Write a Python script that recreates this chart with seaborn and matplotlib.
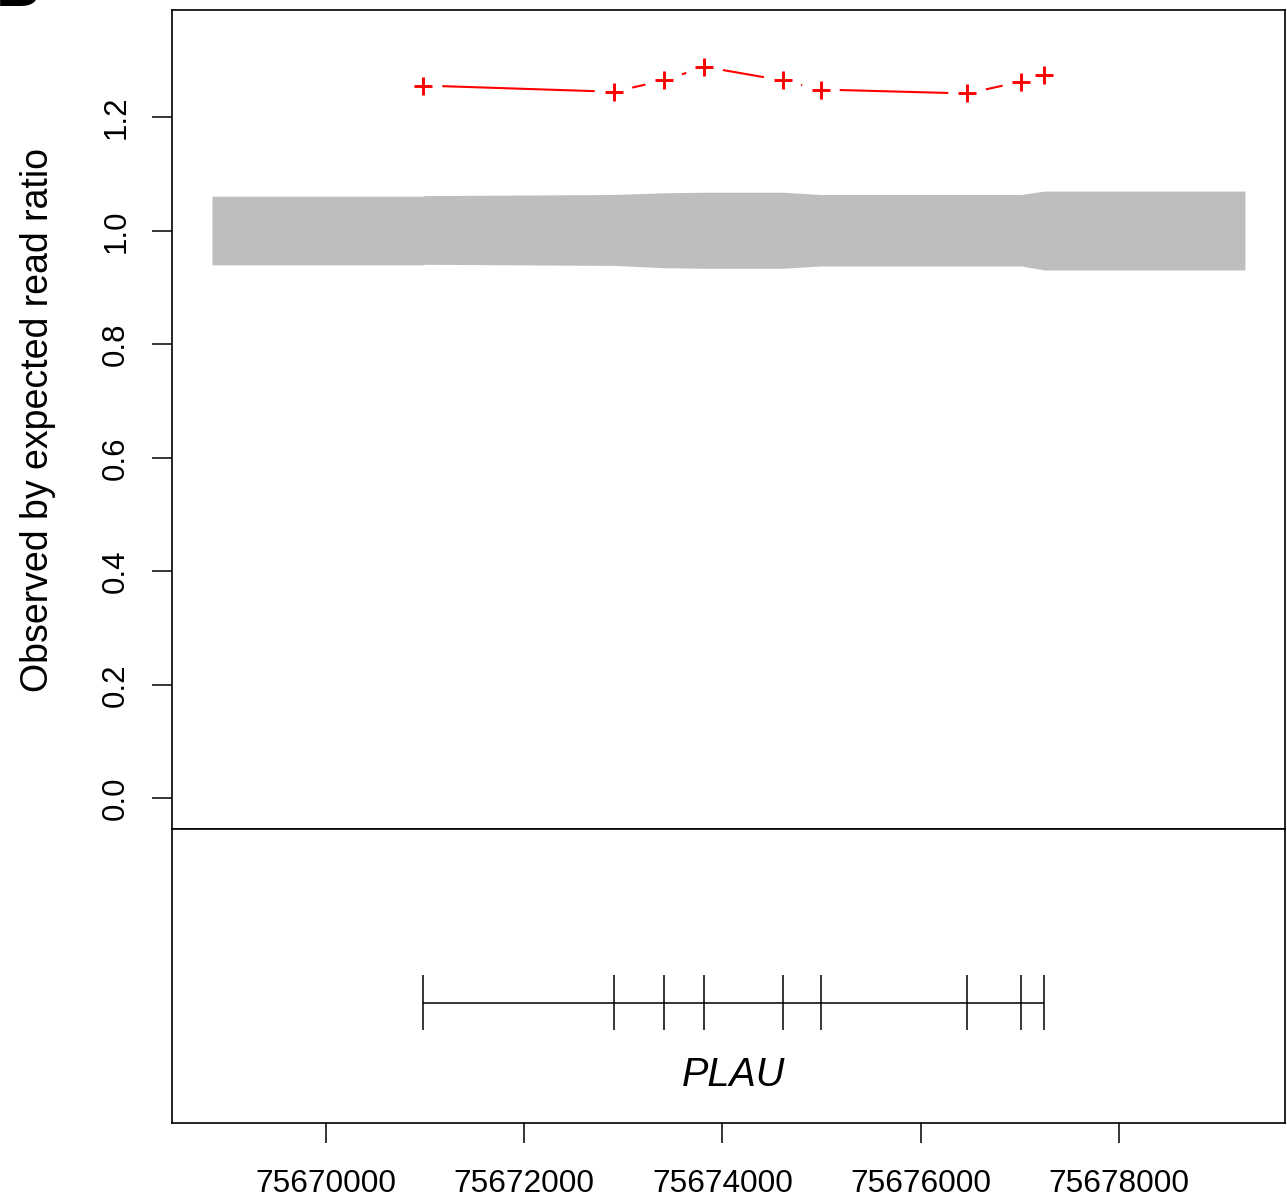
import numpy as np
import pandas as pd
import matplotlib
matplotlib.use("Agg")
import matplotlib.pyplot as plt
import seaborn as sns

# Exon boundary positions (bp) of PLAU and observed/expected read ratios
exon_pos = [75670984, 75672904, 75673411, 75673818, 75674608,
            75674992, 75676470, 75677014, 75677246]
ratio = [1.256, 1.245, 1.265, 1.289, 1.265, 1.249, 1.242, 1.263, 1.275]

# Expected-variation envelope (grey band)
band_pos = [75668853, 75670984, 75670984, 75672904, 75673411, 75673818,
            75674608, 75674992, 75676470, 75677014, 75677246, 75679270]
band_hi = [1.061, 1.061, 1.062, 1.064, 1.067, 1.068,
           1.068, 1.064, 1.064, 1.064, 1.070, 1.070]
band_lo = [0.940, 0.940, 0.941, 0.939, 0.935, 0.934,
           0.934, 0.938, 0.938, 0.938, 0.931, 0.931]

gene_name = "PLAU"
y_ticks = [0.0, 0.2, 0.4, 0.6, 0.8, 1.0, 1.2]
y_ticklabels = ["0.0", "0.2", "0.4", "0.6", "0.8", "1.0", "1.2"]
x_ticks = [75670000, 75672000, 75674000, 75676000, 75678000]
x_ticklabels = [str(v) for v in x_ticks]

sns.set_style("white", {"axes.edgecolor": "black", "axes.linewidth": 1.2,
                        "text.color": "black", "axes.labelcolor": "black",
                        "xtick.color": "black", "ytick.color": "black"})
plt.rcParams["font.family"] = ["Liberation Sans", "DejaVu Sans"]
plt.rcParams["text.color"] = "black"

W, H = 1287, 1203
fig = plt.figure(figsize=(W / 100, H / 100), dpi=100)
left, width = 172 / W, 1113 / W
ax = fig.add_axes([left, 374 / H, width, 819 / H])
axg = fig.add_axes([left, 80 / H, width, 294 / H], sharex=ax)

xlim = (75668450, 75679674)
ax.set_xlim(*xlim)
ax.set_ylim(-0.0541, 1.3891)

# grey envelope
ax.fill_between(band_pos, band_lo, band_hi, color="#BEBEBE", lw=0, zorder=1)

# observed ratios: "+" markers
df = pd.DataFrame({"pos": exon_pos, "ratio": ratio})
sns.scatterplot(data=df, x="pos", y="ratio", marker="+", s=155,
                color="red", linewidth=2.1, ax=ax, zorder=3, legend=False)

# connecting segments with gaps around each marker
gap = 19.0
pts = ax.transData.transform(np.column_stack([exon_pos, ratio]))
inv = ax.transData.inverted()
for p0, p1 in zip(pts[:-1], pts[1:]):
    d = p1 - p0
    L = np.hypot(*d)
    if L <= 2 * gap:
        continue
    u = d / L
    a = inv.transform(p0 + u * gap)
    b = inv.transform(p1 - u * gap)
    ax.plot([a[0], b[0]], [a[1], b[1]], color="red", lw=1.5,
            solid_capstyle="butt", zorder=2)

ax.set_yticks(y_ticks)
ax.set_yticklabels(y_ticklabels)
ax.tick_params(axis="y", length=14.4, width=1.1, pad=15, labelsize=22.5,
               labelrotation=90, left=True, color="black", labelcolor="black")
for t in ax.get_yticklabels():
    t.set_va("center")
ax.tick_params(axis="x", bottom=False, labelbottom=False)
ax.set_ylabel("")
ax.set_xlabel("")
fig.text(38 / W, 1 - 420 / H, "Observed by expected read ratio",
         rotation=90, ha="center", va="center", fontsize=27, color="black")

# gene model panel
axg.set_ylim(0, 1)
axg.hlines(0.408, exon_pos[0], exon_pos[-1], color="black", lw=1.1)
axg.vlines(exon_pos, 0.316, 0.503, color="black", lw=1.1)
axg.text((exon_pos[0] + exon_pos[-1]) / 2, 0.163, gene_name,
         ha="center", va="center", fontsize=28.5, style="italic", color="black")
axg.set_yticks([])
axg.set_xticks(x_ticks)
axg.set_xticklabels(x_ticklabels)
axg.tick_params(axis="x", length=14.4, width=1.1, pad=18.5, labelsize=22.8,
                bottom=True, color="black", labelcolor="black")
axg.set_xlabel("")
axg.set_ylabel("")

for a in (ax, axg):
    for s in a.spines.values():
        s.set_visible(True)
        s.set_color("black")
        s.set_linewidth(1.2)

# panel letter
fig.text(-4 / W, 1 - 6 / H, "B", fontsize=44, fontweight="bold",
         ha="left", va="baseline", color="black")

fig.savefig("out.png", dpi=100)
